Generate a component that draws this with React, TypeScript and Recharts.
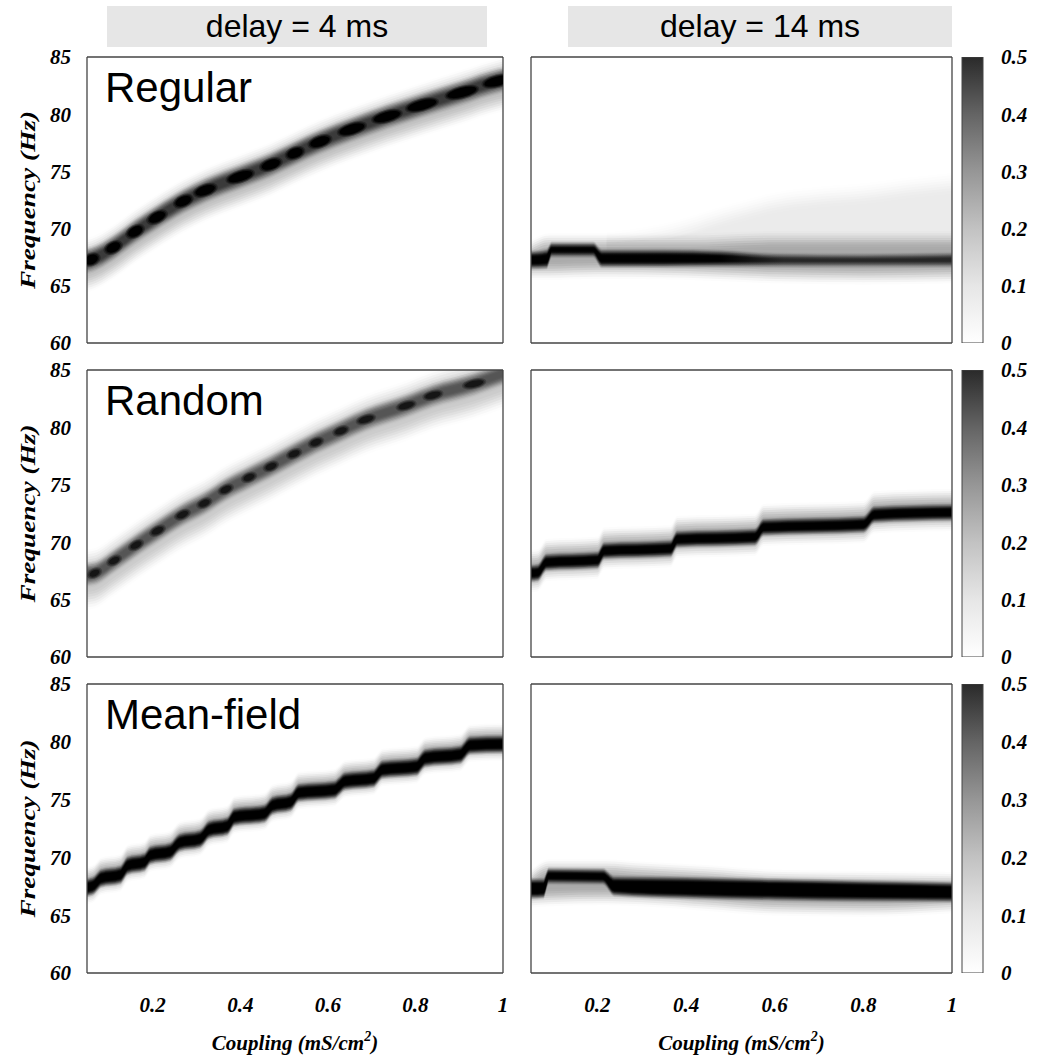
import React from 'react';
import { ComposedChart, BarChart, Area, Line, Bar, XAxis, YAxis, ReferenceArea } from 'recharts';

// axes and labels
const X_TICKS = [0.2, 0.4, 0.6, 0.8, 1];
const Y_TICKS = [60, 65, 70, 75, 80, 85];
const CB_TICKS = [0, 0.1, 0.2, 0.3, 0.4, 0.5];
const X_DOMAIN = [0.05, 1];
const Y_DOMAIN = [60, 85];
const CB_DATA = [{ k: 'power', v: 0.5 }];
const DELAYS = ['delay = 4 ms', 'delay = 14 ms'];
const TOPOLOGIES = ['Regular', 'Random', 'Mean-field'];

// Regular, delay 4 ms: peak frequency through the dark spots
const REG4_C = [0.05, 0.06, 0.11, 0.16, 0.21, 0.27, 0.32, 0.4, 0.47, 0.525, 0.582, 0.655, 0.735, 0.815, 0.906, 0.988, 1.0];
const REG4_F = [67.2, 67.3, 68.35, 69.75, 71.0, 72.4, 73.35, 74.55, 75.6, 76.6, 77.6, 78.7, 79.8, 80.8, 81.9, 82.9, 83.0];

// Random, delay 4 ms
const RND4_C = [0.05, 0.067, 0.112, 0.162, 0.211, 0.268, 0.318, 0.367, 0.42, 0.47, 0.523, 0.573, 0.63, 0.687, 0.779, 0.84, 0.934, 1.0];
const RND4_F = [67.2, 67.3, 68.4, 69.75, 71.0, 72.4, 73.4, 74.6, 75.65, 76.6, 77.7, 78.7, 79.7, 80.7, 81.9, 82.8, 83.8, 84.7];

// Mean-field, delay 4 ms: plateau ends
const MF4_C = [0.05, 0.066, 0.082, 0.126, 0.143, 0.181, 0.195, 0.24, 0.262, 0.308, 0.329, 0.37, 0.387, 0.455, 0.474, 0.515, 0.534, 0.614, 0.64, 0.704, 0.725, 0.802, 0.823, 0.902, 0.925, 1.0];
const MF4_F = [67.4, 67.6, 68.2, 68.5, 69.3, 69.6, 70.2, 70.5, 71.3, 71.6, 72.4, 72.7, 73.5, 73.8, 74.5, 74.8, 75.6, 75.85, 76.6, 76.85, 77.6, 77.85, 78.6, 78.9, 79.7, 79.8];

// Random, delay 14 ms: plateau ends
const RND14_C = [0.05, 0.065, 0.085, 0.2, 0.215, 0.365, 0.38, 0.555, 0.575, 0.8, 0.825, 1.0];
const RND14_F = [67.3, 67.35, 68.25, 68.45, 69.25, 69.45, 70.25, 70.45, 71.3, 71.55, 72.4, 72.6];

// Regular, delay 14 ms: dark core, grey halo and faint upper cloud (Hz bounds)
const REG14_C = [0.05, 0.085, 0.097, 0.19, 0.21, 0.35, 0.48, 0.6, 0.8, 1.0];
const REG14_LO = [66.65, 66.7, 67.7, 67.7, 66.8, 66.8, 66.85, 66.85, 66.85, 66.85];
const REG14_HI = [67.85, 68.0, 68.6, 68.6, 68.0, 68.0, 67.9, 67.65, 67.6, 67.7];
const REG14_HALO_C = [0.05, 0.09, 0.2, 0.4, 0.6, 0.8, 1.0];
const REG14_HALO_LO = [66.3, 66.3, 66.4, 66.3, 66.0, 65.9, 66.0];
const REG14_HALO_HI = [68.2, 68.8, 68.8, 68.8, 69.0, 69.0, 69.0];
const REG14_CLOUD_C = [0.22, 0.35, 0.5, 0.6, 0.7, 0.8, 0.9, 1.0];
const REG14_CLOUD_LO = [68.7, 68.6, 68.6, 68.6, 68.6, 68.6, 68.6, 68.6];
const REG14_CLOUD_HI = [68.8, 69.6, 71.3, 72.3, 72.8, 73.1, 73.6, 74.0];

// Mean-field, delay 14 ms
const MF14_C = [0.05, 0.078, 0.09, 0.212, 0.238, 0.4, 0.6, 0.8, 1.0];
const MF14_LO = [66.6, 66.65, 67.9, 67.85, 66.85, 66.6, 66.45, 66.35, 66.3];
const MF14_HI = [68.0, 68.0, 68.9, 68.85, 68.2, 68.15, 68.0, 67.85, 67.7];
const MF14_HALO_C = [0.05, 0.09, 0.22, 0.3, 0.45, 0.6, 0.8, 1.0];
const MF14_HALO_LO = [66.4, 66.5, 66.6, 66.5, 66.1, 65.7, 65.6, 65.9];
const MF14_HALO_HI = [68.2, 69.1, 69.1, 68.9, 68.6, 68.2, 68.1, 68.0];

const SERIF = '"Liberation Serif", "Times New Roman", serif';
const SANS = '"Liberation Sans", Arial, sans-serif';
const FRAME = '#444';
const TICK_STYLE = { fontFamily: SERIF, fontSize: 21, fontWeight: 700, fontStyle: 'italic', fill: '#000' };

const ROW_TOP = [57, 370, 684];
const ROW_H = [286, 287, 289];
const PX_PER_C = 416 / 0.95;
const PX_PER_HZ = 287 / 25;
const STEPS = 9; // stacked translucent areas used to soften the band edges

type BandPt = { c: number; band: number[] };
type Layer = { data: BandPt[]; fill: string; opacity: number; soft: number };
type Dots = { data: { c: number; f: number }[]; fill: string; ry: number; k: number; sub: number };

const ridge = (c: number[], f: number[], below: number, above: number): BandPt[] =>
  c.map((x, i) => ({ c: x, band: [f[i] - below, f[i] + above] }));
const bounds = (c: number[], lo: number[], hi: number[]): BandPt[] =>
  c.map((x, i) => ({ c: x, band: [lo[i], hi[i]] }));
const points = (c: number[], f: number[]) => c.map((x, i) => ({ c: x, f: f[i] }));

// one band -> STEPS nested bands (outer first) with alphas that build a smooth edge ramp
const softStack = (l: Layer) => {
  const smooth = (t: number) => t * t * (3 - 2 * t);
  const T = (m: number) => Math.min(l.opacity * smooth(m / STEPS), 0.9999);
  return Array.from({ length: STEPS }, (_, k) => {
    const grow = l.soft * (1 - (2 * k) / (STEPS - 1));
    const data = l.data.map((p) => {
      let lo = p.band[0] - grow;
      let hi = p.band[1] + grow;
      if (lo > hi) {
        const mid = (lo + hi) / 2;
        lo = mid;
        hi = mid;
      }
      return { c: p.c, band: [lo, hi] };
    });
    const alpha = 1 - (1 - T(k + 1)) / (1 - T(k));
    return { data, alpha };
  });
};

const PANELS: { row: number; col: number; layers: Layer[]; dots?: Dots }[] = [
  {
    row: 0, col: 0,
    layers: [
      { data: ridge(REG4_C, REG4_F, 2.0, 1.2), fill: '#000', opacity: 0.24, soft: 0.8 },
      { data: ridge(REG4_C, REG4_F, 0.75, 0.75), fill: '#3a3a3a', opacity: 1, soft: 0.45 },
    ],
    dots: { data: points(REG4_C.slice(1, -1), REG4_F.slice(1, -1)), fill: '#000', ry: 4.5, k: 0.55, sub: 7 },
  },
  {
    row: 0, col: 1,
    layers: [
      { data: bounds(REG14_CLOUD_C, REG14_CLOUD_LO, REG14_CLOUD_HI), fill: '#000', opacity: 0.07, soft: 0.9 },
      { data: bounds(REG14_HALO_C, REG14_HALO_LO, REG14_HALO_HI), fill: '#000', opacity: 0.32, soft: 0.8 },
      { data: bounds(REG14_C, REG14_LO, REG14_HI), fill: 'url(#reg14core)', opacity: 1, soft: 0.32 },
    ],
  },
  {
    row: 1, col: 0,
    layers: [
      { data: ridge(RND4_C, RND4_F, 2.2, 1.3), fill: '#000', opacity: 0.2, soft: 0.9 },
      { data: ridge(RND4_C, RND4_F, 0.7, 0.7), fill: '#555', opacity: 1, soft: 0.45 },
    ],
    dots: { data: points(RND4_C.slice(1, -1), RND4_F.slice(1, -1)), fill: '#151515', ry: 3, k: 0.22, sub: 0 },
  },
  {
    row: 1, col: 1,
    layers: [
      { data: ridge(RND14_C, RND14_F, 0.9, 1.3), fill: '#000', opacity: 0.32, soft: 0.75 },
      { data: ridge(RND14_C, RND14_F, 0.55, 0.55), fill: '#000', opacity: 1, soft: 0.3 },
    ],
  },
  {
    row: 2, col: 0,
    layers: [
      { data: ridge(MF4_C, MF4_F, 0.85, 1.2), fill: '#000', opacity: 0.3, soft: 0.6 },
      { data: ridge(MF4_C, MF4_F, 0.6, 0.6), fill: '#000', opacity: 1, soft: 0.3 },
    ],
  },
  {
    row: 2, col: 1,
    layers: [
      { data: bounds(MF14_HALO_C, MF14_HALO_LO, MF14_HALO_HI), fill: '#000', opacity: 0.32, soft: 0.75 },
      { data: bounds(MF14_C, MF14_LO, MF14_HI), fill: '#000', opacity: 1, soft: 0.3 },
    ],
  },
];

const FreqLabel = (props: any) => {
  const vb = props.viewBox || { x: 0, y: 0, width: 0, height: 0 };
  const cx = vb.x + 28;
  const cy = vb.y + vb.height / 2;
  return (
    <text x={0} y={0} transform={`translate(${cx} ${cy}) rotate(-90) scale(1.3 1)`} textAnchor="middle"
      dominantBaseline="central" style={TICK_STYLE as any}>
      Frequency (Hz)
    </text>
  );
};

const CouplingLabel = (props: any) => {
  const vb = props.viewBox || { x: 0, y: 0, width: 0, height: 0 };
  return (
    <text x={vb.x + vb.width / 2} y={vb.y + 77} textAnchor="middle" style={TICK_STYLE as any}>
      Coupling (mS/cm<tspan fontSize={14} dy={-9}>2</tspan><tspan dy={9}>)</tspan>
    </text>
  );
};

const PanelName = ({ viewBox, text }: any) => {
  const vb = viewBox || { x: 0, y: 0 };
  return (
    <text x={vb.x + 18} y={vb.y + 45} fontFamily={SANS} fontSize={42} fill="#000">
      {text}
    </text>
  );
};

const makeDot = (d: Dots) => (p: any) => {
  const i = p.index;
  const pts = d.data;
  const a = pts[Math.max(0, i - 1)];
  const b = pts[Math.min(pts.length - 1, i + 1)];
  const dx = (b.c - a.c) * PX_PER_C;
  const dy = (b.f - a.f) * PX_PER_HZ;
  const steps = Math.min(pts.length - 1, i + 1) - Math.max(0, i - 1);
  const span = Math.hypot(dx, dy) / steps;
  const ang = ((-Math.atan2(dy, dx) * 180) / Math.PI) * 0.8;
  const rx = Math.max(4, d.k * span - d.sub);
  if (p.cx == null || p.cy == null) return <g key={i} />;
  return (
    <g key={i} transform={`rotate(${ang} ${p.cx} ${p.cy})`}>
      <ellipse cx={p.cx} cy={p.cy} rx={rx + 3} ry={d.ry + 2.2} fill={d.fill} fillOpacity={0.3} />
      <ellipse cx={p.cx} cy={p.cy} rx={rx + 1.5} ry={d.ry + 1.1} fill={d.fill} fillOpacity={0.5} />
      <ellipse cx={p.cx} cy={p.cy} rx={rx} ry={d.ry} fill={d.fill} />
    </g>
  );
};

const HeatPanel = ({ row, col, layers, dots }: { row: number; col: number; layers: Layer[]; dots?: Dots }) => {
  const left = col === 0;
  const bottom = row === 2;
  const plotH = ROW_H[row];
  const width = left ? 520 : 438;
  const height = 14 + plotH + (bottom ? 84 : 12);
  const mb = bottom ? 0 : 12;
  const margin = left ? { top: 14, right: 17, bottom: mb, left: 0 } : { top: 14, right: 6, bottom: mb, left: 11 };
  const frameProps = {
    mirror: true, tick: false as const, tickSize: 7, stroke: FRAME,
    axisLine: { stroke: FRAME, strokeWidth: 1.3 }, tickLine: { stroke: FRAME, strokeWidth: 1.3 },
    allowDataOverflow: true, interval: 0 as const, type: 'number' as const,
  };
  return (
    <div style={{ position: 'absolute', left: left ? 0 : 520, top: ROW_TOP[row] - 14 }}>
      <ComposedChart width={width} height={height} margin={margin}>
        <defs>
          <linearGradient id="reg14core" x1="0" y1="0" x2="1" y2="0">
            <stop offset="0" stopColor="#000" />
            <stop offset="0.45" stopColor="#000" />
            <stop offset="0.6" stopColor="#262626" />
            <stop offset="1" stopColor="#262626" />
          </linearGradient>
        </defs>
        {bottom && (
          <XAxis xAxisId="lab" type="number" dataKey="c" domain={X_DOMAIN} ticks={X_TICKS} allowDataOverflow interval={0}
            height={84} axisLine={false} tickLine={false} tickSize={0} tickMargin={24} tick={TICK_STYLE}
            tickFormatter={(v) => String(v)} label={{ content: CouplingLabel }} />
        )}
        <XAxis xAxisId="b" dataKey="c" domain={X_DOMAIN} ticks={X_TICKS} {...frameProps} />
        <XAxis xAxisId="t" orientation="top" domain={X_DOMAIN} ticks={X_TICKS} {...frameProps} />
        {left && (
          <YAxis yAxisId="lab" type="number" domain={Y_DOMAIN} ticks={Y_TICKS} allowDataOverflow interval={0} width={87}
            axisLine={false} tickLine={false} tickSize={0} tickMargin={16} tick={TICK_STYLE}
            label={{ content: FreqLabel }} />
        )}
        <YAxis yAxisId="l" domain={Y_DOMAIN} ticks={Y_TICKS} {...frameProps} />
        <YAxis yAxisId="r" orientation="right" domain={Y_DOMAIN} ticks={Y_TICKS} {...frameProps} />
        {layers.flatMap((l, i) =>
          softStack(l).map((s, k) => (
            <Area key={`${i}-${k}`} xAxisId="b" yAxisId="l" data={s.data} dataKey="band" type="monotone" stroke="none"
              fill={l.fill} fillOpacity={s.alpha} isAnimationActive={false} activeDot={false} />
          ))
        )}
        {dots && (
          <Line xAxisId="b" yAxisId="l" data={dots.data} dataKey="f" stroke="none" type="linear"
            dot={makeDot(dots)} activeDot={false} isAnimationActive={false} />
        )}
        {left && (
          <ReferenceArea xAxisId="b" yAxisId="l" x1={X_DOMAIN[0]} x2={X_DOMAIN[1]} y1={Y_DOMAIN[0]} y2={Y_DOMAIN[1]}
            fill="none" stroke="none" label={{ content: (p: any) => <PanelName viewBox={p.viewBox} text={TOPOLOGIES[row]} /> }} />
        )}
      </ComposedChart>
    </div>
  );
};

const ColorBar = ({ row }: { row: number }) => {
  const plotH = ROW_H[row];
  const gid = `cb${row}`;
  return (
    <div style={{ position: 'absolute', left: 958, top: ROW_TOP[row] - 14 }}>
      <BarChart width={96} height={14 + plotH + 14} data={CB_DATA} margin={{ top: 14, right: 0, bottom: 14, left: 4 }}
        barCategoryGap={0}>
        <defs>
          <linearGradient id={gid} x1="0" y1="1" x2="0" y2="0">
            <stop offset="0" stopColor="#ffffff" />
            <stop offset="0.2" stopColor="#e6e6e6" />
            <stop offset="0.4" stopColor="#c2c2c2" />
            <stop offset="0.6" stopColor="#969696" />
            <stop offset="0.8" stopColor="#646464" />
            <stop offset="1" stopColor="#2a2a2a" />
          </linearGradient>
        </defs>
        <XAxis dataKey="k" hide />
        <YAxis yAxisId="lab" orientation="right" type="number" domain={[0, 0.5]} ticks={CB_TICKS} allowDataOverflow interval={0}
          width={71} axisLine={false} tickLine={false} tickSize={0} tickMargin={18} tick={{ ...TICK_STYLE, textAnchor: 'start' }}
          tickFormatter={(v) => String(v)} />
        <YAxis yAxisId="m" orientation="right" type="number" domain={[0, 0.5]} ticks={CB_TICKS} allowDataOverflow interval={0}
          mirror tick={false} tickSize={4} axisLine={false} tickLine={{ stroke: FRAME, strokeWidth: 1 }} />
        <Bar yAxisId="lab" dataKey="v" fill={`url(#${gid})`} stroke={FRAME} strokeWidth={1} isAnimationActive={false} />
      </BarChart>
    </div>
  );
};

const Header = ({ text, left, width }: { text: string; left: number; width: number }) => (
  <div style={{
    position: 'absolute', left, top: 6, width, height: 41, background: '#e6e6e6',
    fontFamily: SANS, fontSize: 32, lineHeight: '41px', textAlign: 'center', color: '#000',
  }}>
    {text}
  </div>
);

export default function App() {
  return (
    <div style={{ position: 'absolute', left: 0, top: 0, width: 1054, height: 1057, background: '#fff', overflow: 'hidden' }}>
      <Header text={DELAYS[0]} left={107} width={380} />
      <Header text={DELAYS[1]} left={568} width={384} />
      {PANELS.map((p) => (
        <HeatPanel key={`${p.row}-${p.col}`} row={p.row} col={p.col} layers={p.layers} dots={p.dots} />
      ))}
      {[0, 1, 2].map((r) => (
        <ColorBar key={r} row={r} />
      ))}
    </div>
  );
}
